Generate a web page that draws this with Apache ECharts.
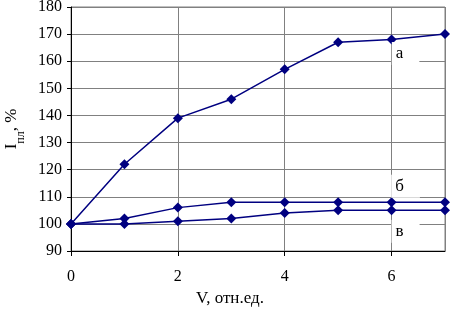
<!DOCTYPE html>
<html>
<head>
<meta charset="utf-8">
<script src="https://cdn.jsdelivr.net/npm/echarts@6/dist/echarts.min.js"></script>
<style>
  html, body { margin: 0; padding: 0; background: #fff; }
  #main { width: 450px; height: 310px; }
</style>
</head>
<body>
<div id="main"></div>
<script>
const xValues = [0, 1, 2, 3, 4, 5, 6, 7];
const seriesA = [100, 122, 139, 146, 157, 167, 168, 170];
const seriesB = [100, 102, 106, 108, 108, 108, 108, 108];
const seriesV = [100, 100, 101, 102, 104, 105, 105, 105];
const curveNames = ['а', 'б', 'в'];

const chartDom = document.getElementById('main');
const myChart = echarts.init(chartDom);

const navy = '#000080';
const font = '"Liberation Serif", "DejaVu Serif", serif';

// label on the point at x=6 with a white box, like the original
function buildData(values, name, offset) {
  return values.map((v, i) => {
    const item = { value: [xValues[i], v] };
    if (i === 6) {
      item.label = {
        show: true,
        formatter: name,
        position: 'inside',
        offset: offset,
        color: '#000',
        fontFamily: font,
        fontSize: 17,
        backgroundColor: '#fff',
        padding: [3, 16, 3, 4]
      };
    }
    return item;
  });
}

function makeSeries(values, name, offset) {
  return {
    name: name,
    type: 'line',
    data: buildData(values, name, offset),
    symbol: 'diamond',
    symbolSize: 10,
    itemStyle: { color: navy },
    lineStyle: { color: navy, width: 1.5 },
    label: { show: false },
    animation: false
  };
}

const option = {
  backgroundColor: '#fff',
  grid: {
    left: 71,
    right: 5,
    top: 7,
    bottom: 59,
    outerBoundsMode: 'none',
    show: true,
    borderColor: '#808080',
    borderWidth: 1
  },
  xAxis: {
    type: 'value',
    min: 0,
    max: 7,
    interval: 2,
    name: 'V, отн.ед.',
    nameLocation: 'middle',
    nameGap: 38,
    nameTextStyle: { color: '#000', fontFamily: font, fontSize: 17, padding: [0, 56, 0, 0] },
    axisLine: { show: true, lineStyle: { color: '#000' } },
    axisTick: { show: true, length: 5, lineStyle: { color: '#000' } },
    axisLabel: { color: '#000', fontFamily: font, fontSize: 16, margin: 18, showMaxLabel: false },
    splitLine: { show: true, lineStyle: { color: '#808080', width: 1 } }
  },
  yAxis: {
    type: 'value',
    min: 90,
    max: 180,
    interval: 10,
    name: '{i|I}{s|пл}{i|, %}',
    nameLocation: 'middle',
    nameGap: 40,
    nameTextStyle: {
      color: '#000',
      fontFamily: font,
      rich: {
        i: { fontFamily: font, fontSize: 17, color: '#000', verticalAlign: 'top', lineHeight: 24 },
        s: { fontFamily: font, fontSize: 12, color: '#000', verticalAlign: 'bottom', lineHeight: 24 }
      }
    },
    axisLine: { show: true, lineStyle: { color: '#000' } },
    axisTick: { show: true, length: 4, lineStyle: { color: '#000' } },
    axisLabel: { color: '#000', fontFamily: font, fontSize: 16, margin: 9 },
    splitLine: { show: true, lineStyle: { color: '#808080', width: 1 } }
  },
  series: [
    makeSeries(seriesA, curveNames[0], [14, 14]),
    makeSeries(seriesB, curveNames[1], [14, -16]),
    makeSeries(seriesV, curveNames[2], [14, 21])
  ]
};

myChart.setOption(option);
</script>
</body>
</html>
